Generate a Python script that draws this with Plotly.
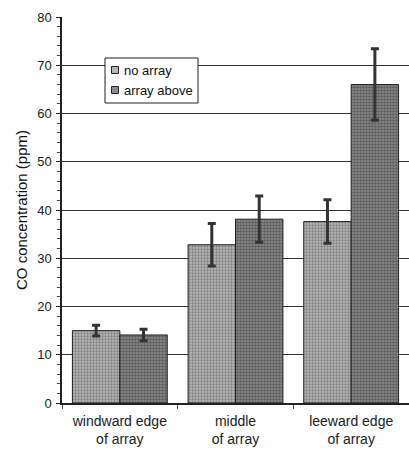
import plotly.graph_objects as go

# Sampling positions and measured CO concentrations (ppm)
positions = ["windward edge<br>of array", "middle<br>of array", "leeward edge<br>of array"]
no_array = [15.0, 32.8, 37.6]
no_array_err = [1.1, 4.4, 4.5]
array_above = [14.1, 38.1, 66.0]
array_above_err = [1.2, 4.8, 7.4]

series_names = ["no array", "array above"]
y_ticks = [0, 10, 20, 30, 40, 50, 60, 70, 80]

font_family = "Liberation Sans, Arial, sans-serif"

W, H = 409, 451
M = dict(l=62, r=0, t=17, b=48)

styles = [
    dict(base="#b6b6b6", dots="#4a4a4a", solidity=0.45),
    dict(base="#8c8c8c", dots="#2e2e2e", solidity=0.55),
]

fig = go.Figure()

for name, vals, errs, st in zip(series_names, [no_array, array_above],
                                [no_array_err, array_above_err], styles):
    fig.add_trace(go.Bar(
        name=name,
        x=positions,
        y=vals,
        showlegend=False,
        marker=dict(
            color=st["base"],
            line=dict(color="#222222", width=1),
            pattern=dict(shape=".", fgcolor=st["dots"], bgcolor=st["base"],
                         size=3, solidity=st["solidity"]),
        ),
        error_y=dict(type="data", array=errs, visible=True,
                     color="#333333", thickness=3, width=4),
    ))


# Compact legend box: helpers convert pixel offsets to paper fractions
def px_x(p):
    return (p - M["l"]) / (W - M["l"] - M["r"])


def px_y(p):
    return (H - M["b"] - p) / (H - M["t"] - M["b"])


shapes = [dict(type="rect", xref="paper", yref="paper",
               x0=px_x(105), x1=px_x(198), y0=px_y(103), y1=px_y(58),
               line=dict(color="#222222", width=1), fillcolor="white", layer="above")]
annotations = []
for i, (name, st) in enumerate(zip(series_names, styles)):
    cy = 70 + 20 * i
    shapes.append(dict(type="rect", xref="paper", yref="paper",
                       x0=px_x(111.5), x1=px_x(118.5), y0=px_y(cy + 3.5), y1=px_y(cy - 3.5),
                       line=dict(color="#222222", width=1), fillcolor=st["base"], layer="above"))
    annotations.append(dict(text=name, xref="paper", yref="paper",
                            x=px_x(122), y=px_y(cy), xanchor="left", yanchor="middle",
                            showarrow=False, font=dict(size=13, color="#111111")))

fig.update_layout(
    width=W,
    height=H,
    margin=M,
    paper_bgcolor="white",
    plot_bgcolor="white",
    barmode="group",
    bargap=0.18,
    bargroupgap=0.0,
    font=dict(family=font_family, size=13, color="#111111"),
    showlegend=False,
    shapes=shapes,
    annotations=annotations,
)

fig.update_xaxes(
    showline=True, linecolor="#222222", linewidth=1.5,
    ticks="outside", tickson="boundaries", ticklen=4, tickcolor="#444444",
    ticklabelstandoff=4,
    tickfont=dict(size=14, color="#222222"),
    showgrid=False,
)

fig.update_yaxes(
    range=[0, 80],
    tickvals=y_ticks,
    showline=True, linecolor="#222222", linewidth=1.5,
    ticks="outside", ticklen=4, tickcolor="#222222",
    ticklabelstandoff=2,
    minor=dict(dtick=2, ticks="outside", ticklen=3, tickcolor="#444444", showgrid=False),
    showgrid=True, gridcolor="#333333", gridwidth=1,
    tickfont=dict(size=13, color="#222222"),
    title=dict(text="CO concentration (ppm)", font=dict(size=15, color="#111111"), standoff=6),
)

fig.write_html("out.html")
